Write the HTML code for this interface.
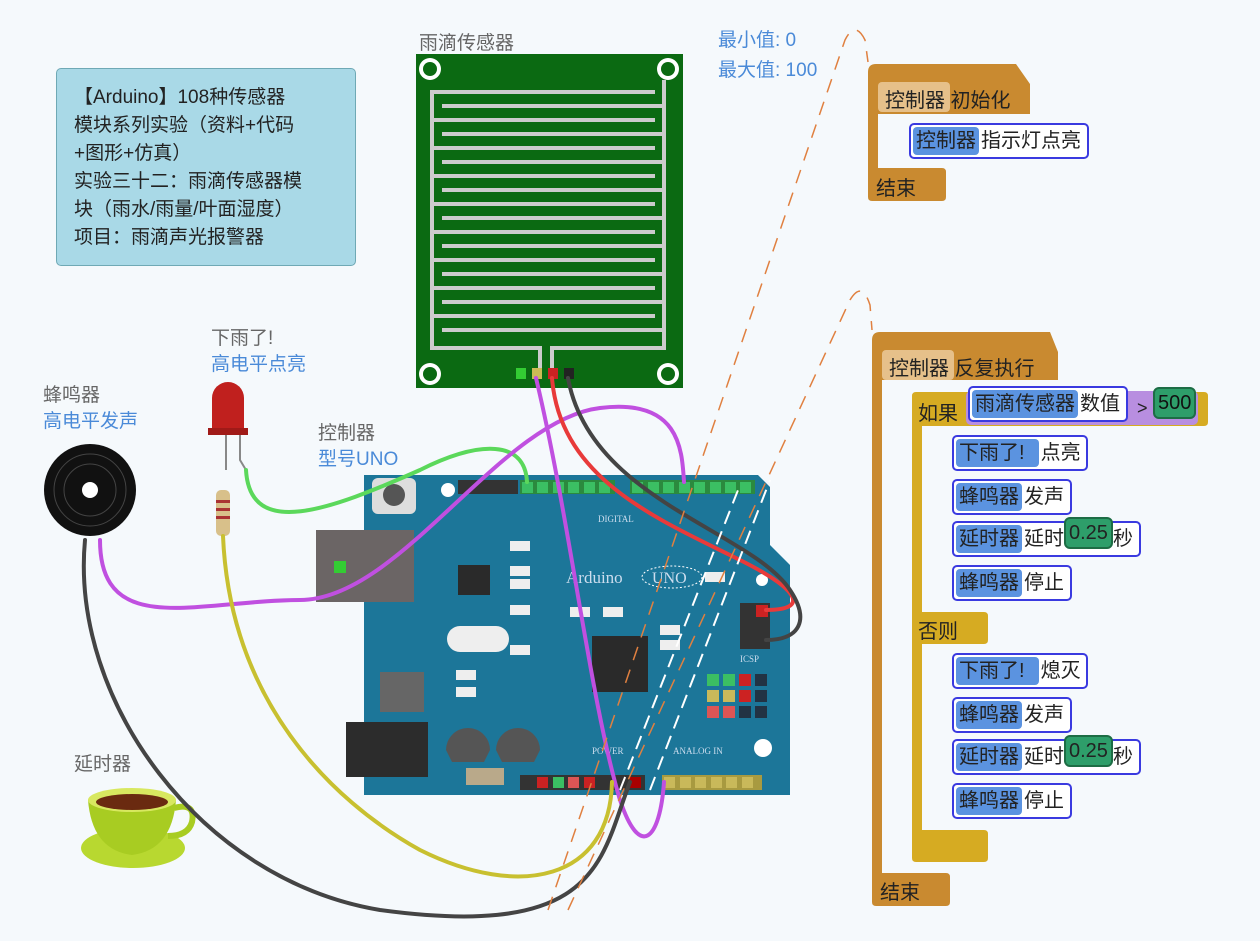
<!DOCTYPE html>
<html><head><meta charset="utf-8"><style>
body{margin:0;width:1260px;height:941px;background:#f5f9fc;font-family:"Liberation Sans","Noto Sans CJK SC",sans-serif;overflow:hidden;position:relative}
.a{position:absolute}
.lbl{position:absolute;font-size:19px;color:#666}
.blue{color:#4a8ad8}
.st{position:absolute;height:32px;border:2px solid #3a3ae0;background:#fff;border-radius:5px;font-size:20px;line-height:32px;white-space:nowrap;color:#222}
.st b{font-weight:normal;background:#5b93e0;border-radius:4px;padding:0 3px;display:inline-block;height:28px;line-height:28px;margin:2px}
.num{display:inline-block;background:#2e9e6a;border:2px solid #1d6d45;border-radius:6px;padding:0 3px;line-height:28px;height:28px;position:relative;top:-6px}
</style></head><body>
<div class="a" style="left:56px;top:68px;width:298px;height:196px;background:#a9d9e7;border:1.5px solid #6fa9b5;border-radius:5px;"></div>
<div class="a" style="left:74px;top:84px;font-size:19px;line-height:28px;color:#222;white-space:nowrap">【Arduino】108种传感器<br>模块系列实验（资料+代码<br>+图形+仿真）<br>实验三十二：雨滴传感器模<br>块（雨水/雨量/叶面湿度）<br>项目：雨滴声光报警器</div>

<div class="lbl" style="left:419px;top:28px">雨滴传感器</div>
<div class="lbl blue" style="left:718px;top:26px;line-height:30px">最小值: 0<br>最大值: 100</div>
<div class="lbl" style="left:211px;top:326px;line-height:26px">下雨了!<br><span class="blue">高电平点亮</span></div>
<div class="lbl" style="left:43px;top:383px;line-height:26px">蜂鸣器<br><span class="blue">高电平发声</span></div>
<div class="lbl" style="left:318px;top:421px;line-height:26px">控制器<br><span class="blue">型号UNO</span></div>
<div class="lbl" style="left:74px;top:749px">延时器</div>

<svg class="a" style="left:0;top:0" width="1260" height="941">
<rect x="416" y="54" width="267" height="334" fill="#0b6a12"/>
<g fill="#fff"><circle cx="430" cy="69" r="11"/><circle cx="668" cy="69" r="11"/><circle cx="430" cy="374" r="11"/><circle cx="668" cy="374" r="11"/></g>
<g fill="#0b6a12"><circle cx="430" cy="69" r="7"/><circle cx="668" cy="69" r="7"/><circle cx="430" cy="374" r="7"/><circle cx="668" cy="374" r="7"/></g>
<g stroke="#ccc" stroke-width="4" fill="none">
<path d="M655 92 H432 V348 H540 V368"/>
<path d="M664 80 V348 H552 V368"/>
<path d="M432 120 H655 M432 148 H655 M432 176 H655 M432 204 H655 M432 232 H655 M432 260 H655 M432 288 H655 M432 316 H655"/>
<path d="M664 106 H442 M664 134 H442 M664 162 H442 M664 190 H442 M664 218 H442 M664 246 H442 M664 274 H442 M664 302 H442 M664 330 H442"/>
</g>
<rect x="516" y="368" width="10" height="11" fill="#3c3"/><rect x="532" y="368" width="10" height="11" fill="#cb5"/><rect x="548" y="368" width="10" height="11" fill="#c22"/><rect x="564" y="368" width="10" height="11" fill="#222"/>
<path d="M364 475 H758 L770 487 V545 L790 565 V795 H364 Z" fill="#1c7699"/>
<rect x="458" y="480" width="60" height="14" fill="#333"/><rect x="520" y="480" width="95" height="14" fill="#2b8a3e"/><rect x="630" y="480" width="125" height="14" fill="#2b8a3e"/>
<g fill="#3bbf63"><rect x="522" y="482" width="11" height="11"/><rect x="537" y="482" width="11" height="11"/><rect x="553" y="482" width="11" height="11"/><rect x="568" y="482" width="11" height="11"/><rect x="584" y="482" width="11" height="11"/><rect x="599" y="482" width="11" height="11"/>
<rect x="632" y="482" width="11" height="11"/><rect x="648" y="482" width="11" height="11"/><rect x="663" y="482" width="11" height="11"/><rect x="679" y="482" width="11" height="11"/><rect x="694" y="482" width="11" height="11"/><rect x="710" y="482" width="11" height="11"/><rect x="725" y="482" width="11" height="11"/><rect x="740" y="482" width="11" height="11"/></g>
<rect x="372" y="478" width="44" height="36" fill="#ddd" rx="6"/><circle cx="394" cy="495" r="11" fill="#555"/>
<rect x="316" y="530" width="98" height="72" fill="#6b6565"/><rect x="334" y="561" width="12" height="12" fill="#3c3"/>
<rect x="458" y="565" width="32" height="30" fill="#2a2a2a"/>
<rect x="447" y="626" width="62" height="26" rx="13" fill="#eee"/>
<rect x="592" y="636" width="56" height="56" fill="#2a2a2a"/>
<rect x="380" y="672" width="44" height="40" fill="#666"/>
<rect x="346" y="722" width="82" height="55" fill="#2c2c2c"/>
<path d="M446 750 a22 22 0 0 1 44 0 l-6 12 h-32z" fill="#555"/><path d="M496 750 a22 22 0 0 1 44 0 l-6 12 h-32z" fill="#555"/>
<rect x="466" y="768" width="38" height="17" fill="#b9a98a"/>
<rect x="520" y="775" width="125" height="15" fill="#333"/>
<g><rect x="537" y="777" width="11" height="11" fill="#c22"/><rect x="553" y="777" width="11" height="11" fill="#3bbf63"/><rect x="568" y="777" width="11" height="11" fill="#d55"/><rect x="584" y="777" width="11" height="11" fill="#c22"/><rect x="630" y="777" width="11" height="11" fill="#a00"/></g>
<rect x="662" y="775" width="100" height="15" fill="#a89a40"/>
<g fill="#c9b95a"><rect x="664" y="777" width="11" height="11"/><rect x="680" y="777" width="11" height="11"/><rect x="695" y="777" width="11" height="11"/><rect x="711" y="777" width="11" height="11"/><rect x="726" y="777" width="11" height="11"/><rect x="742" y="777" width="11" height="11"/></g>
<g><rect x="707" y="674" width="12" height="12" fill="#3bbf63"/><rect x="723" y="674" width="12" height="12" fill="#3bbf63"/><rect x="739" y="674" width="12" height="12" fill="#c22"/><rect x="755" y="674" width="12" height="12" fill="#234"/>
<rect x="707" y="690" width="12" height="12" fill="#c9b95a"/><rect x="723" y="690" width="12" height="12" fill="#c9b95a"/><rect x="739" y="690" width="12" height="12" fill="#c22"/><rect x="755" y="690" width="12" height="12" fill="#234"/>
<rect x="707" y="706" width="12" height="12" fill="#d55"/><rect x="723" y="706" width="12" height="12" fill="#d55"/><rect x="739" y="706" width="12" height="12" fill="#234"/><rect x="755" y="706" width="12" height="12" fill="#234"/></g>
<rect x="740" y="603" width="30" height="46" fill="#333"/><rect x="756" y="605" width="12" height="12" fill="#c22"/>
<circle cx="763" cy="748" r="9" fill="#fff"/><circle cx="762" cy="580" r="6" fill="#fff"/><circle cx="448" cy="490" r="7" fill="#fff"/>
<text x="566" y="583" font-family="Liberation Serif" font-size="17" fill="#cde">Arduino</text>
<ellipse cx="672" cy="577" rx="30" ry="11" fill="none" stroke="#fff" stroke-dasharray="2 2"/>
<text x="652" y="583" font-family="Liberation Serif" font-size="16" fill="#cde">UNO</text>
<text x="598" y="522" font-family="Liberation Serif" font-size="9" fill="#cde">DIGITAL</text>
<text x="673" y="754" font-family="Liberation Serif" font-size="9" fill="#cde">ANALOG IN</text>
<text x="740" y="662" font-family="Liberation Serif" font-size="9" fill="#cde">ICSP</text>
<text x="592" y="754" font-family="Liberation Serif" font-size="9" fill="#cde">POWER</text>
<g fill="#eee"><rect x="510" y="541" width="20" height="10"/><rect x="510" y="566" width="20" height="10"/><rect x="510" y="579" width="20" height="10"/><rect x="510" y="605" width="20" height="10"/><rect x="510" y="645" width="20" height="10"/><rect x="570" y="607" width="20" height="10"/><rect x="603" y="607" width="20" height="10"/><rect x="660" y="625" width="20" height="10"/><rect x="660" y="640" width="20" height="10"/><rect x="456" y="670" width="20" height="10"/><rect x="456" y="687" width="20" height="10"/><rect x="705" y="572" width="20" height="10"/></g>
<path d="M212 430 V398 a16 16 0 0 1 32 0 V430 Z" fill="#c0201e"/><rect x="208" y="428" width="40" height="7" fill="#a01a18"/>
<path d="M226 435 V470 M240 435 V460 L246 470" stroke="#888" stroke-width="2" fill="none"/>
<rect x="216" y="490" width="14" height="46" rx="5" fill="#d8c08a"/>
<g fill="#a33"><rect x="216" y="500" width="14" height="3"/><rect x="216" y="508" width="14" height="3"/><rect x="216" y="516" width="14" height="3"/></g>
<circle cx="90" cy="490" r="46" fill="#111"/><circle cx="90" cy="490" r="36" fill="none" stroke="#444"/><circle cx="90" cy="490" r="26" fill="none" stroke="#444"/><circle cx="90" cy="490" r="8" fill="#fff"/>
<ellipse cx="133" cy="848" rx="52" ry="20" fill="#b8d830"/>
<path d="M88 800 h88 q-4 50 -44 55 q-40 -5 -44 -55z" fill="#a8cc22"/>
<ellipse cx="132" cy="800" rx="44" ry="12" fill="#d8e860"/><ellipse cx="132" cy="802" rx="36" ry="8" fill="#6a2a10"/>
<path d="M174 808 q22 -6 18 14 q-4 14 -24 14" stroke="#a8cc22" stroke-width="6" fill="none"/>
<g fill="none" stroke-width="4" stroke-linecap="round">
<path d="M246 470 C250 540 330 510 420 470 C480 440 525 440 527 482" stroke="#5bd85b"/>
<path d="M100 540 C100 640 200 600 300 600 C400 600 500 420 600 408 C680 398 682 450 684 482" stroke="#c050e0"/>
<path d="M536 378 C570 520 590 700 620 800 C640 860 660 840 664 782" stroke="#c050e0"/>
<path d="M552 378 C560 480 660 520 740 560 C800 590 810 610 766 610" stroke="#e83a3a"/>
<path d="M568 378 C590 500 750 530 790 590 C810 620 800 640 766 640" stroke="#444"/>
<path d="M223 536 C230 700 330 800 420 850 C520 900 610 880 612 782" stroke="#c8c030"/>
<path d="M85 540 C70 700 200 880 380 910 C600 940 600 860 630 782" stroke="#444"/>
</g>
<g fill="none" stroke="#e08040" stroke-width="1.5" stroke-dasharray="14 10">
<path d="M548 910 L845 40 Q855 20 865 40 L868 62"/>
<path d="M568 910 L850 300 Q862 280 870 305 L872 330"/>
</g>
<g fill="none" stroke="#fff" stroke-width="2" stroke-dasharray="14 8">
<path d="M620 790 L740 485"/><path d="M650 790 L770 480"/>
</g>
<g fill="#c98a30">
<path d="M868 72 q0 -8 8 -8 h140 l14 20 v30 h-152 v54 h64 q4 0 4 4 v25 q0 4 -4 4 h-70 q-4 0 -4 -4z"/>
<path d="M872 340 q0 -8 8 -8 h170 l8 20 v28 h-176 v493 h64 q4 0 4 4 v25 q0 4 -4 4 h-70 q-4 0 -4 -4z"/>
</g>
<g fill="#d6ab22">
<path d="M912 396 q0 -4 4 -4 h288 q4 0 4 4 v26 q0 4 -4 4 h-282 v186 h62 q4 0 4 4 v24 q0 4 -4 4 h-62 v186 h62 q4 0 4 4 v24 q0 4 -4 4 h-68 q-4 0 -4 -4z"/>
</g>
<rect x="878" y="82" width="72" height="30" rx="4" fill="#e6c08a"/>
<rect x="882" y="350" width="72" height="30" rx="4" fill="#e6c08a"/>
<rect x="966" y="391" width="232" height="34" rx="5" fill="#b88ee0"/>
</svg>

<div class="a" style="left:885px;top:84px;font-size:20px;color:#222">控制器 初始化</div>
<div class="st" style="left:909px;top:123px"><b>控制器</b>指示灯点亮&nbsp;</div>
<div class="a" style="left:876px;top:172px;font-size:20px;color:#222">结束</div>
<div class="a" style="left:889px;top:352px;font-size:20px;color:#222">控制器 反复执行</div>
<div class="a" style="left:918px;top:397px;font-size:20px;color:#222">如果</div>
<div class="st" style="left:968px;top:386px"><b>雨滴传感器</b>数值&nbsp;</div>
<div class="a" style="left:1137px;top:398px;font-size:18px;color:#222">&gt;</div>
<div class="a" style="left:1153px;top:387px;font-size:20px;color:#111;background:#2e9e6a;border:2px solid #1d6d45;border-radius:6px;padding:0 3px;line-height:28px">500</div>
<div class="st" style="left:952px;top:435px"><b>下雨了!&nbsp;&nbsp;</b>点亮&nbsp;</div>
<div class="st" style="left:952px;top:479px"><b>蜂鸣器</b>发声&nbsp;</div>
<div class="st" style="left:952px;top:521px"><b>延时器</b>延时<span class="num">0.25</span>秒&nbsp;</div>
<div class="st" style="left:952px;top:565px"><b>蜂鸣器</b>停止&nbsp;</div>
<div class="a" style="left:918px;top:615px;font-size:20px;color:#222">否则</div>
<div class="st" style="left:952px;top:653px"><b>下雨了!&nbsp;&nbsp;</b>熄灭&nbsp;</div>
<div class="st" style="left:952px;top:697px"><b>蜂鸣器</b>发声&nbsp;</div>
<div class="st" style="left:952px;top:739px"><b>延时器</b>延时<span class="num">0.25</span>秒&nbsp;</div>
<div class="st" style="left:952px;top:783px"><b>蜂鸣器</b>停止&nbsp;</div>
<div class="a" style="left:880px;top:876px;font-size:20px;color:#222">结束</div>
</body></html>
